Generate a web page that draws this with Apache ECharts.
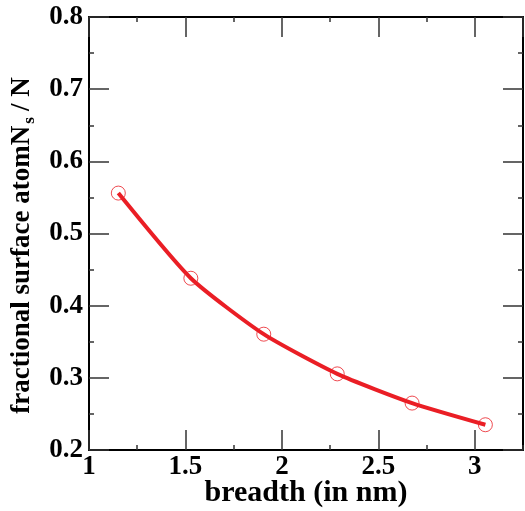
<!DOCTYPE html>
<html><head><meta charset="utf-8">
<script src="https://cdn.jsdelivr.net/npm/echarts@6/dist/echarts.min.js"></script>
<style>html,body{margin:0;padding:0;background:#fff}#c{width:525px;height:511px}</style>
</head><body><div id="c"></div>
<script>
var breadth = [1.152, 1.528, 1.906, 2.287, 2.675, 3.055];
var fraction = [0.556, 0.438, 0.3605, 0.3055, 0.265, 0.235];
var xLabels = ['1', '1.5', '2', '2.5', '3'];
var yLabels = ['0.2', '0.3', '0.4', '0.5', '0.6', '0.7', '0.8'];

var FONT = '"Liberation Serif", "Times New Roman", serif';
var RED = '#ea1e25';
var pts = breadth.map(function (b, i) { return [b, fraction[i]]; });

function xAx(pos, interval, len, showLabel, showLine) {
  return {
    type: 'value', position: pos, min: 1, max: 3.25, interval: interval,
    axisLine: { show: showLine, onZero: false, lineStyle: { color: '#000', width: 2 } },
    axisTick: { show: true, inside: true, length: len, lineStyle: { color: '#333', width: 1.5 } },
    axisLabel: {
      show: showLabel, margin: 4, fontFamily: FONT, fontWeight: 'bold', fontSize: 27, color: '#000',
      showMaxLabel: false,
      formatter: function (v) { var s = String(+v.toFixed(2)); return xLabels.indexOf(s) >= 0 ? s : ''; }
    },
    splitLine: { show: false }
  };
}
function yAx(pos, showLabel) {
  return {
    type: 'value', position: pos, min: 0.2, max: 0.8, interval: 0.1,
    axisLine: { show: true, onZero: false, lineStyle: { color: '#000', width: 2 } },
    axisTick: { show: true, inside: true, length: 20, lineStyle: { color: '#333', width: 1.5 } },
    minorTick: { show: true, splitNumber: 2, length: 5, lineStyle: { color: '#333', width: 1.5 } },
    axisLabel: {
      show: showLabel, margin: 6, fontFamily: FONT, fontWeight: 'bold', fontSize: 27, color: '#000',
      formatter: function (v) { var s = (+v).toFixed(1); return yLabels.indexOf(s) >= 0 ? s : ''; }
    },
    splitLine: { show: false }
  };
}

var xMain = xAx('bottom', 0.5, 20, true, true);
xMain.name = 'breadth (in nm)';
xMain.nameLocation = 'middle';
xMain.nameGap = 28;
xMain.nameMoveOverlap = false;
xMain.nameTextStyle = { fontFamily: FONT, fontWeight: 'bold', fontSize: 30, color: '#000' };

var yMain = yAx('left', true);
yMain.name = '{a|fractional surface atomN}{s|s}{b|/ N}';
yMain.nameLocation = 'middle';
yMain.nameRotate = 90;
yMain.nameGap = 50;
yMain.nameMoveOverlap = false;
yMain.nameTextStyle = {
  fontFamily: FONT, fontWeight: 'bold', fontSize: 27, color: '#000',
  padding: [0, 24, 0, 0],
  rich: {
    a: { fontFamily: FONT, fontWeight: 'bold', fontSize: 27, color: '#000', verticalAlign: 'top', lineHeight: 30 },
    s: { fontFamily: FONT, fontWeight: 'bold', fontSize: 17, color: '#000', verticalAlign: 'top', lineHeight: 30, padding: [12, 6, 0, 2] },
    b: { fontFamily: FONT, fontWeight: 'bold', fontSize: 27, color: '#000', verticalAlign: 'top', lineHeight: 30 }
  }
};

var chart = echarts.init(document.getElementById('c'), null, { renderer: 'canvas' });
chart.setOption({
  backgroundColor: '#fff',
  animation: false,
  grid: { left: 89, right: 2, top: 17, bottom: 61, containLabel: false, outerBoundsMode: 'none' },
  xAxis: [
    xMain,
    xAx('bottom', 0.25, 5, false, false),
    xAx('top', 0.5, 20, false, true),
    xAx('top', 0.25, 5, false, false)
  ],
  yAxis: [yMain, yAx('right', false)],
  series: [
    {
      type: 'scatter', xAxisIndex: 0, yAxisIndex: 0, data: pts, z: 2,
      symbol: 'circle', symbolSize: 14,
      itemStyle: { color: 'rgba(0,0,0,0)', borderColor: RED, borderWidth: 1 }
    },
    {
      type: 'line', xAxisIndex: 0, yAxisIndex: 0, data: pts, z: 3,
      showSymbol: false, smooth: 0.2,
      lineStyle: { color: RED, width: 4 }
    }
  ]
});
</script></body></html>
